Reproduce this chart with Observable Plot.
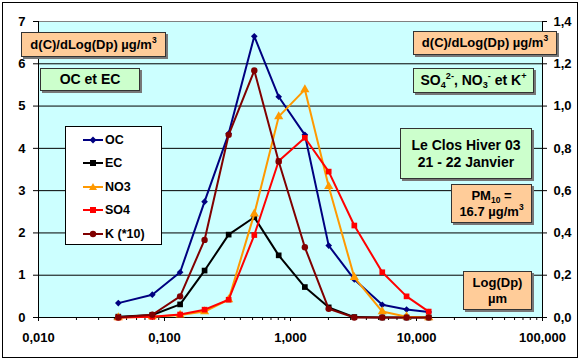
<!DOCTYPE html>
<html><head><meta charset="utf-8">
<script src="https://cdn.jsdelivr.net/npm/d3@7"></script>
<script src="https://cdn.jsdelivr.net/npm/@observablehq/plot@0.6"></script>
<style>
body{margin:0;background:#fff;font-family:"Liberation Sans",Arial,sans-serif;}
#wrap{position:relative;width:582px;height:361px;overflow:hidden;}
#wrap > svg{position:absolute;left:0;top:0;}
.box{position:absolute;box-sizing:border-box;border:1px solid #333;box-shadow:2px 2px 0 #777;font-weight:bold;color:#000;display:flex;flex-direction:column;justify-content:center;align-items:center;text-align:center;line-height:1.2;}
.or{background:#FFCC99;font-size:13px;}
.gr{background:#CCFFCC;font-size:14px;}
.sb{font-size:65%;position:relative;top:3px;line-height:1;}
.sp{font-size:65%;position:relative;top:-6px;line-height:1;}
#frame{position:absolute;left:2px;top:2px;width:576px;height:356px;box-sizing:border-box;border:1px solid #000;pointer-events:none;}
#legend{position:absolute;left:65px;top:126px;width:97px;height:119px;box-sizing:border-box;border:1px solid #000;background:#fff;}
.lg{position:absolute;left:0;height:20px;display:flex;align-items:center;font-size:12.5px;font-weight:bold;}
#wrap .lg svg{position:static;margin-left:17px;margin-right:2px;}
</style></head>
<body><div id="wrap"></div>
<script>
// Diameters (µm) of impactor stages
const dp  = [0.043, 0.080, 0.133, 0.208, 0.323, 0.516, 0.806, 1.30, 2.01, 3.21, 5.35, 8.34, 12.5];
// Left axis (µg/m3)
const oc  = [0.34, 0.54, 1.07, 2.74, 4.35, 6.65, 5.22, 4.32, 1.70, 0.90, 0.30, 0.19, 0.13];
const ec  = [0.02, 0.06, 0.31, 1.11, 1.96, 2.37, 1.47, 0.72, 0.24, 0.01, 0.0, 0.0, 0.0];
// Right axis (µg/m3)
const no3 = [0.0, 0.004, 0.012, 0.028, 0.085, 0.49, 0.95, 1.078, 0.62, 0.19, 0.028, 0.004, 0.0];
const so4 = [0.0, 0.003, 0.014, 0.037, 0.084, 0.39, 0.74, 0.85, 0.69, 0.435, 0.214, 0.10, 0.028];
const k10 = [0.0, 0.013, 0.10, 0.367, 0.864, 1.168, 0.738, 0.332, 0.041, 0.0, 0.0, 0.0, 0.0];

const leftTicks = [0,1,2,3,4,5,6,7];
const rightTicks = [0.0,0.2,0.4,0.6,0.8,1.0,1.2,1.4];
const xMajor = [0.01, 0.1, 1, 10, 100];
const xLabels = ["0,010","0,100","1,000","10,000","100,000"];

const series = [
  {name:"OC", vals:oc, axis:"left", color:"#000080", symbol:"diamond2", r:3},
  {name:"EC", vals:ec, axis:"left", color:"#000000", symbol:"square", r:3.2},
  {name:"NO3", vals:no3, axis:"right", color:"#FF9900", symbol:"triangle", r:3.4},
  {name:"SO4", vals:so4, axis:"right", color:"#FF0000", symbol:"square", r:3.2},
  {name:"K (*10)", vals:k10, axis:"right", color:"#800000", symbol:"circle", r:3.2}
];
const ratio = 5; // left units per right unit
const rows = series.flatMap(s => s.vals.map((v,i) => ({name:s.name, x:dp[i], y: s.axis==="left" ? v : v*ratio})));

const xMinor = [];
for (const m of [0.01,0.1,1,10]) for (let k=2;k<=9;k++) xMinor.push(+(m*k).toPrecision(3));

const font = {fontFamily:"'Liberation Sans', Arial, sans-serif", fontWeight:"bold", fontSize:"13px", color:"#000", background:"transparent", overflow:"visible"};

const marks = [
  Plot.frame({fill:"#CCFFCC".replace("CCFFCC","CCFFFF"), stroke:null}),
  Plot.ruleY([1,2,3,4,5,6], {stroke:"#000", strokeWidth:1}),
  Plot.ruleY([7], {stroke:"#808080", strokeWidth:1}),
  Plot.axisX({ticks:xMinor, tickSize:3, tickFormat:()=>"", stroke:"#000", label:null}),
  Plot.axisX({ticks:xMajor, tickSize:4, tickPadding:11, tickFormat:d=>xLabels[xMajor.indexOf(d)], stroke:"#000", label:null}),
  Plot.axisY({ticks:leftTicks, anchor:"left", tickSize:5, tickPadding:8, tickFormat:d=>String(d), label:null}),
  Plot.axisY({ticks:rightTicks.map(v=>v*ratio), anchor:"right", tickSize:4, tickPadding:7, tickFormat:d=>(d/ratio).toFixed(1).replace(".",","), label:null}),
  Plot.ruleY([0], {stroke:"#000", strokeWidth:1}),
  Plot.ruleX([0.01, 100], {stroke:"#000", strokeWidth:1})
];
for (const s of series) {
  const data = rows.filter(d => d.name === s.name);
  marks.push(Plot.line(data, {x:"x", y:"y", stroke:s.color, strokeWidth:2}));
  marks.push(Plot.dot(data, {x:"x", y:"y", symbol:()=>s.symbol, fill:s.color, stroke:"none", r:s.r}));
}

const chart = Plot.plot({
  width:582, height:361,
  marginLeft:38, marginRight:40, marginTop:21, marginBottom:44,
  style:font,
  x:{type:"log", domain:[0.01,100]},
  y:{domain:[0,7]},
  symbol:{type:"identity"},
  marks
});
const wrap = document.getElementById("wrap");
wrap.appendChild(chart);

function box(cls, l, t, w, h, html){
  const d = document.createElement("div");
  d.className = "box " + cls;
  Object.assign(d.style, {left:l+"px", top:t+"px", width:w+"px", height:h+"px"});
  d.innerHTML = html;
  wrap.appendChild(d);
}
box("or", 21, 32, 145, 25, "<div>d(C)/dLog(Dp) µg/m<span class='sp'>3</span></div>");
box("gr", 40, 68, 100, 23, "<div>OC et EC</div>");
box("or", 413, 31, 144, 24, "<div>d(C)/dLog(Dp) µg/m<span class='sp'>3</span></div>");
box("gr", 413, 68, 121, 25, "<div>SO<span class='sb'>4</span><span class='sp'>2-</span>, NO<span class='sb'>3</span><span class='sp'>-</span> et K<span class='sp'>+</span></div>");
box("gr", 400, 128, 132, 51, "<div>Le Clos Hiver 03</div><div>21 - 22 Janvier</div>");
box("or", 451, 184, 81, 39, "<div>PM<span class='sb'>10</span> =</div><div>16.7 µg/m<span class='sp'>3</span></div>");
box("or", 463, 271, 69, 39, "<div>Log(Dp)</div><div>µm</div>");

const leg = document.createElement("div");
leg.id = "legend";
series.forEach((s,i) => {
  const row = document.createElement("div");
  row.className = "lg";
  row.style.top = (3 + i*23.4) + "px";
  const sym = s.symbol==="diamond2" ? `<path d="M10,3.5L13.5,7L10,10.5L6.5,7Z" fill="${s.color}"/>`
    : s.symbol==="square" ? `<rect x="7" y="4" width="6" height="6" fill="${s.color}"/>`
    : s.symbol==="triangle" ? `<path d="M10,3L14,10H6Z" fill="${s.color}"/>`
    : `<circle cx="10" cy="7" r="3.2" fill="${s.color}"/>`;
  row.innerHTML = `<svg width="20" height="14"><line x1="0" x2="20" y1="7" y2="7" stroke="${s.color}" stroke-width="2"/>${sym}</svg><span>${s.name}</span>`;
  leg.appendChild(row);
});
wrap.appendChild(leg);

const fr = document.createElement("div");
fr.id = "frame";
wrap.appendChild(fr);
</script>
</body></html>
